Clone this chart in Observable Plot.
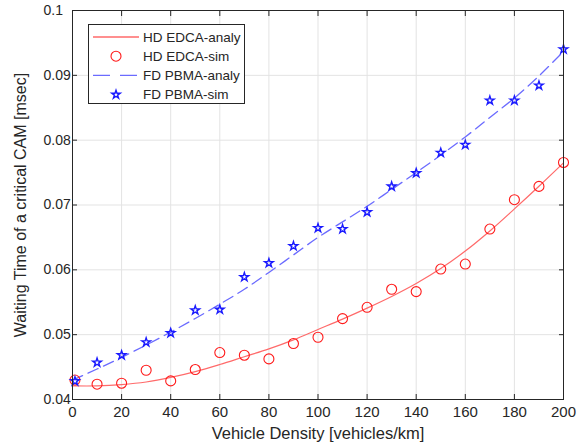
<!DOCTYPE html>
<html><head><meta charset="utf-8">
<script src="https://cdn.jsdelivr.net/npm/d3@7"></script>
<script src="https://cdn.jsdelivr.net/npm/@observablehq/plot@0.6"></script>
<style>
body{margin:0;background:#fff;}
#wrap{position:relative;width:587px;height:448px;font-family:"Liberation Sans",Arial,sans-serif;}
#legend{position:absolute;left:88px;top:24px;width:157px;height:80px;border:1px solid #262626;background:#fff;box-sizing:border-box;}
</style></head><body><div id="wrap"></div>
<script>
// --- data ---
const xSim = [1,10,20,30,40,50,60,70,80,90,100,110,120,130,140,150,160,170,180,190,200];
const hdSim = [0.0430,0.04236,0.04251,0.04451,0.04287,0.04462,0.04724,0.04683,0.04626,0.04863,0.0496,0.05248,0.05422,0.0570,0.05664,0.06012,0.06089,0.06629,0.07082,0.07287,0.07656];
const fdSim = [0.04282,0.0457,0.04683,0.04883,0.05026,0.05376,0.05387,0.05889,0.06105,0.06367,0.06645,0.06629,0.0689,0.07287,0.07492,0.07806,0.07929,0.08612,0.08612,0.08843,0.09402];
const xAnaly = [0,10,20,30,40,50,60,70,80,90,100,110,120,130,140,150,160,170,180,190,200];
const hdAnaly = [0.0421,0.0421,0.0423,0.0427,0.0434,0.0443,0.0454,0.0466,0.0478,0.0492,0.0508,0.0524,0.0541,0.0559,0.0579,0.0602,0.0629,0.0660,0.0694,0.0729,0.0765];
const fdAnaly = [0.0430,0.0447,0.0465,0.0484,0.0504,0.0525,0.0547,0.0570,0.0596,0.0623,0.0650,0.0674,0.0698,0.0724,0.0750,0.0777,0.0805,0.0835,0.0865,0.0899,0.0937];
const xTicks = [0,20,40,60,80,100,120,140,160,180,200];
const yTicks = [0.04,0.05,0.06,0.07,0.08,0.09,0.1];
const seriesNames = ["HD EDCA-analy","HD EDCA-sim","FD PBMA-analy","FD PBMA-sim"];
const xLabel = "Vehicle Density [vehicles/km]";
const yLabel = "Waiting Time of a critical CAM [msec]";

// --- tables ---
const hdLine = xAnaly.map((x,i)=>({x, y: hdAnaly[i]}));
const fdLine = xAnaly.map((x,i)=>({x, y: fdAnaly[i]}));
const hdPts = xSim.map((x,i)=>({x, y: hdSim[i]}));
const fdPts = xSim.map((x,i)=>({x, y: fdSim[i]}));

const RED_LINE = "#ff6a6a", RED_PT = "#ff1a1a", BLUE_LINE = "#6b6bff", BLUE_PT = "#1a1aff";
const fmt = d => String(+d.toFixed(2));

const chart = Plot.plot({
  width: 587, height: 448,
  marginLeft: 72, marginRight: 24, marginTop: 10, marginBottom: 49,
  style: {fontFamily: "'Liberation Sans', Arial, sans-serif", fontSize: "14px", color: "#262626", background: "#fff"},
  x: {domain: [0, 200]},
  y: {domain: [0.04, 0.1]},
  marks: [
    Plot.gridX(xTicks, {stroke: "#e3e3e3", strokeOpacity: 1}),
    Plot.gridY(yTicks, {stroke: "#e3e3e3", strokeOpacity: 1}),
    Plot.line(hdLine, {x: "x", y: "y", stroke: RED_LINE, strokeWidth: 1.2, curve: "catmull-rom"}),
    Plot.line(fdLine, {x: "x", y: "y", stroke: BLUE_LINE, strokeWidth: 1.3, strokeDasharray: "11,6", curve: "catmull-rom"}),
    Plot.dot(hdPts, {x: "x", y: "y", r: 5, stroke: RED_PT, fill: "none", strokeWidth: 1.1}),
    Plot.dot(fdPts, {x: "x", y: "y", r: 2.7, symbol: "star", stroke: BLUE_PT, fill: "none", strokeWidth: 1.4}),
    Plot.frame({stroke: "#262626", strokeWidth: 1}),
    Plot.axisX(xTicks, {anchor: "bottom", tickSize: -5, tickFormat: () => "", label: null}),
    Plot.axisX(xTicks, {anchor: "top", tickSize: -5, tickFormat: () => "", label: null}),
    Plot.axisY(yTicks, {anchor: "left", tickSize: -5, tickFormat: () => "", label: null}),
    Plot.axisY(yTicks, {anchor: "right", tickSize: -5, tickFormat: () => "", label: null}),
    Plot.axisX(xTicks, {anchor: "bottom", tickSize: 0, tickPadding: 7, tickFormat: d => String(d), label: null, fontSize: 15}),
    Plot.axisY(yTicks, {anchor: "left", tickSize: 0, tickPadding: 0, dx: -29, textAnchor: "start", tickFormat: fmt, label: null, fontSize: 14}),
    Plot.text([xLabel], {text: d => d, frameAnchor: "bottom", dy: 39, fontSize: 16.5, fill: "#262626"}),
    Plot.text([yLabel], {text: d => d, frameAnchor: "left", textAnchor: "middle", dx: -52, rotate: -90, fontSize: 16, fill: "#262626"})
  ]
});

const wrap = document.getElementById("wrap");
wrap.appendChild(chart);

// --- legend (inside axes, top-left) ---
const leg = d3.select(wrap).append("div").attr("id", "legend");
const svg = leg.append("svg").attr("width", 155).attr("height", 78);
const rows = [
  {name: seriesNames[0], kind: "line", color: RED_LINE, dash: null},
  {name: seriesNames[1], kind: "circle", color: RED_PT},
  {name: seriesNames[2], kind: "line", color: BLUE_LINE, dash: "17,10"},
  {name: seriesNames[3], kind: "star", color: BLUE_PT}
];
const starPath = d3.symbol(d3.symbolStar, 22)();
rows.forEach((r, i) => {
  const cy = 12 + i * 19.2;
  if (r.kind === "line") {
    svg.append("line").attr("x1", 4).attr("x2", 50).attr("y1", cy).attr("y2", cy)
      .attr("stroke", r.color).attr("stroke-width", 1.3).attr("stroke-dasharray", r.dash);
  } else if (r.kind === "circle") {
    svg.append("circle").attr("cx", 27).attr("cy", cy).attr("r", 5)
      .attr("fill", "none").attr("stroke", r.color).attr("stroke-width", 1.1);
  } else {
    svg.append("path").attr("d", starPath).attr("transform", `translate(27,${cy})`)
      .attr("fill", "none").attr("stroke", r.color).attr("stroke-width", 1.4);
  }
  svg.append("text").attr("x", 54).attr("y", cy).attr("dy", "0.36em")
    .attr("font-size", 13.5).attr("fill", "#262626")
    .attr("font-family", "'Liberation Sans', Arial, sans-serif").text(r.name);
});
</script>
</body></html>
